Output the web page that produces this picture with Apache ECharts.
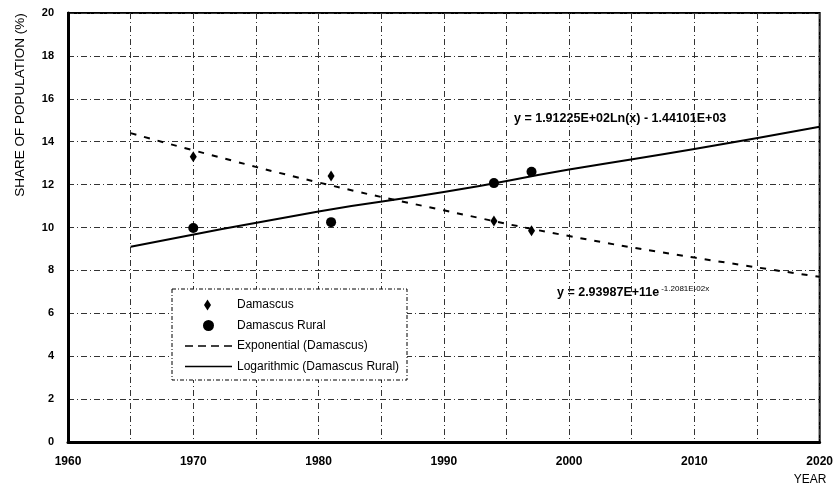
<!DOCTYPE html>
<html>
<head>
<meta charset="utf-8">
<script src="https://cdn.jsdelivr.net/npm/echarts@6/dist/echarts.min.js"></script>
<style>
  html, body { margin: 0; padding: 0; background: #fff; }
  #chart { width: 836px; height: 494px; }
</style>
</head>
<body>
<div id="chart"></div>
<script>
// observed shares (%)
var damascusYears = [1970, 1981, 1994, 1997];
var damascusShare = [13.3, 12.4, 10.3, 9.85];
var ruralYears = [1970, 1981, 1994, 1997];
var ruralShare = [9.98, 10.25, 12.07, 12.6];

// trend lines
var expYears = [1965, 1970, 1980, 1990, 2000, 2010, 2020];
var expShare = [14.4, 13.6, 12.1, 10.8, 9.6, 8.6, 7.7];
var logYears = [1965, 1980, 1990, 2000, 2010, 2020];
var logShare = [9.1, 10.75, 11.65, 12.7, 13.66, 14.7];

function pairs(xs, ys) {
  return xs.map(function (x, i) { return [x, ys[i]]; });
}

var font = '"Liberation Sans", Arial, sans-serif';
var gridLine = { show: true, lineStyle: { color: '#333', width: 1, type: [6, 3, 1, 3] } };
// legend icons drawn inside a 47 x 11 slot (move-to corners keep the box)
var box = 'M0,0M47,11';
var diamondIcon = 'path://' + box + 'M19,5.5L22.5,0L26,5.5L22.5,11Z';
var solidIcon = 'path://' + box + 'M0,4.7L47,4.7L47,6.3L0,6.3Z';
var dashIcon = 'path://' + box +
  'M0,4.7L8,4.7L8,6.3L0,6.3Z M13,4.7L21,4.7L21,6.3L13,6.3Z' +
  'M26,4.7L34,4.7L34,6.3L26,6.3Z M39,4.7L47,4.7L47,6.3L39,6.3Z';

var myChart = echarts.init(document.getElementById('chart'));
var option = {
  backgroundColor: '#fff',
  animation: false,
  grid: {
    left: 68, right: 16, top: 13, bottom: 52,
    show: true, borderColor: '#000', borderWidth: 2
  },
  xAxis: {
    type: 'value', min: 1960, max: 2020, interval: 5,
    axisLine: { show: true, lineStyle: { color: '#000', width: 3 } },
    axisTick: { show: false },
    axisLabel: {
      margin: 14, color: '#000', fontFamily: font, fontSize: 12, fontWeight: 'bold',
      formatter: function (v) { return v % 10 === 0 ? String(v) : ''; }
    },
    splitLine: gridLine
  },
  yAxis: {
    type: 'value', min: 0, max: 20, interval: 2,
    axisLine: { show: true, lineStyle: { color: '#000', width: 3 } },
    axisTick: { show: false },
    axisLabel: { margin: 14, color: '#000', fontFamily: font, fontSize: 11, fontWeight: 'bold' },
    splitLine: gridLine
  },
  legend: {
    orient: 'vertical', left: 185, top: 299, z: 10, padding: 0,
    itemWidth: 47, itemHeight: 11, itemGap: 8.5,
    textStyle: { color: '#000', fontFamily: font, fontSize: 12 },
    data: [
      { name: 'Damascus', icon: diamondIcon },
      { name: 'Damascus Rural' },
      { name: 'Exponential (Damascus)', icon: dashIcon },
      { name: 'Logarithmic (Damascus Rural)', icon: solidIcon }
    ]
  },
  graphic: [
    {
      type: 'rect', z: 3, silent: true,
      shape: { x: 172, y: 289, width: 235, height: 91 },
      style: { fill: '#fff', stroke: '#000', lineWidth: 1, lineDash: [4, 2, 1, 2] }
    },
    {
      type: 'text', rotation: Math.PI / 2, x: 20, y: 105,
      style: {
        text: 'SHARE OF POPULATION (%)', fill: '#000', font: '13.5px ' + font,
        align: 'center', verticalAlign: 'middle'
      }
    },
    {
      type: 'text', x: 810, y: 480,
      style: { text: 'YEAR', fill: '#000', font: '12px ' + font, align: 'center', verticalAlign: 'middle' }
    },
    {
      type: 'text', x: 514, y: 119,
      style: {
        text: 'y = 1.91225E+02Ln(x) - 1.44101E+03', fill: '#000',
        font: 'bold 12.5px ' + font, verticalAlign: 'middle'
      }
    },
    {
      type: 'text', x: 557, y: 293,
      style: {
        text: '{b|y = 2.93987E+11e}{s|-1.2081E-02x}', verticalAlign: 'middle',
        rich: {
          b: { fill: '#000', font: 'bold 12.5px ' + font },
          s: { fill: '#000', font: '8px ' + font, padding: [0, 0, 9, 2] }
        }
      }
    }
  ],
  series: [
    {
      name: 'Damascus', type: 'scatter', z: 5,
      symbol: 'diamond', symbolSize: [7, 11],
      itemStyle: { color: '#000', opacity: 1 },
      data: pairs(damascusYears, damascusShare)
    },
    {
      name: 'Damascus Rural', type: 'scatter', z: 5,
      symbol: 'circle', symbolSize: 10,
      itemStyle: { color: '#000', opacity: 1 },
      data: pairs(ruralYears, ruralShare)
    },
    {
      name: 'Exponential (Damascus)', type: 'line', smooth: true,
      symbol: 'none', itemStyle: { color: '#000' },
      lineStyle: { color: '#000', width: 2, type: [6, 8] },
      data: pairs(expYears, expShare)
    },
    {
      name: 'Logarithmic (Damascus Rural)', type: 'line', smooth: true,
      symbol: 'none', itemStyle: { color: '#000' },
      lineStyle: { color: '#000', width: 2 },
      data: pairs(logYears, logShare)
    }
  ]
};
myChart.setOption(option);
</script>
</body>
</html>
